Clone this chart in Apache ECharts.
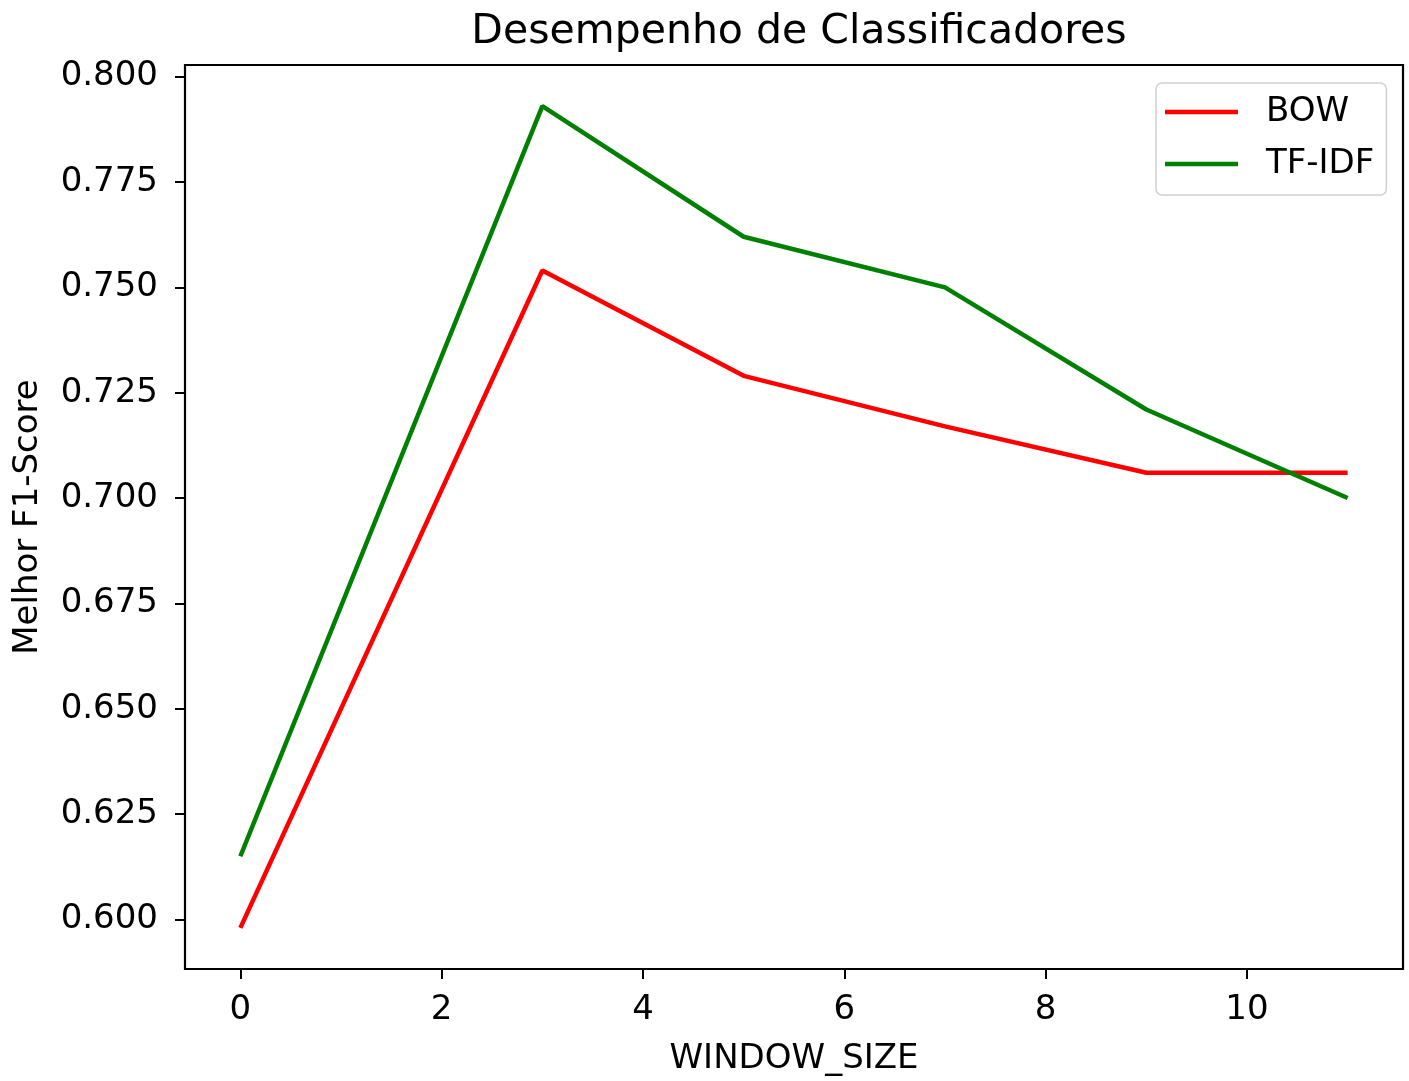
<!DOCTYPE html>
<html>
<head>
<meta charset="utf-8">
<script src="https://cdn.jsdelivr.net/npm/echarts@6/dist/echarts.min.js"></script>
<style>
html,body{margin:0;padding:0;background:#fff;}
#chart{width:1409px;height:1081px;}
</style>
</head>
<body>
<div id="chart"></div>
<script>
const windowSize = [0, 3, 5, 7, 9, 11];
const bow = [0.598, 0.754, 0.729, 0.717, 0.706, 0.706];
const tfidf = [0.615, 0.793, 0.762, 0.750, 0.721, 0.700];
const xTicks = [0, 2, 4, 6, 8, 10];
const yTicks = [0.600, 0.625, 0.650, 0.675, 0.700, 0.725, 0.750, 0.775, 0.800];
const seriesNames = ['BOW', 'TF-IDF'];
const titleText = 'Desempenho de Classificadores';
const xName = 'WINDOW_SIZE';
const yName = 'Melhor F1-Score';

const font = 'DejaVu Sans';
const chart = echarts.init(document.getElementById('chart'));
const pairs = arr => windowSize.map((x, i) => [x, arr[i]]);

chart.setOption({
  animation: false,
  backgroundColor: '#fff',
  title: {
    text: titleText,
    left: 794, top: 7, textAlign: 'center',
    textStyle: {fontFamily: font, fontSize: 41, fontWeight: 'normal', color: '#000'}
  },
  grid: {left: 185, right: 6, top: 65, bottom: 108.5, show: true, borderColor: '#000', borderWidth: 2.2, containLabel: false},
  legend: {
    orient: 'vertical', left: 1156, top: 83, align: 'left',
    padding: [12, 12, 14, 9],
    backgroundColor: 'rgba(255,255,255,0.8)',
    borderColor: '#d0d0d0', borderWidth: 1.5, borderRadius: 6,
    icon: 'rect', itemWidth: 73, itemHeight: 4.5, itemGap: 18,
    textStyle: {fontFamily: font, fontSize: 34, color: '#000', padding: [0, 0, 0, 23]},
    data: seriesNames
  },
  xAxis: {
    type: 'value', min: -0.55, max: 11.55,
    name: xName, nameLocation: 'middle', nameGap: 73,
    nameTextStyle: {fontFamily: font, fontSize: 34, color: '#000'},
    axisLine: {show: false, onZero: false},
    splitLine: {show: false},
    axisTick: {show: true, length: 10, lineStyle: {color: '#000', width: 2}, customValues: xTicks},
    axisLabel: {fontFamily: font, fontSize: 34, color: '#000', margin: 24, customValues: xTicks,
      formatter: v => String(v)}
  },
  yAxis: {
    type: 'value', min: 0.58825, max: 0.80275,
    name: yName, nameLocation: 'middle', nameGap: 140, nameRotate: 90,
    nameTextStyle: {fontFamily: font, fontSize: 34, color: '#000'},
    axisLine: {show: false, onZero: false},
    splitLine: {show: false},
    axisTick: {show: true, length: 10, lineStyle: {color: '#000', width: 2}, customValues: yTicks},
    axisLabel: {fontFamily: font, fontSize: 34, color: '#000', margin: 27, customValues: yTicks,
      formatter: v => Number(v).toFixed(3)}
  },
  series: [
    {name: seriesNames[0], type: 'line', data: pairs(bow), symbol: 'none', color: '#ff0000',
     lineStyle: {color: '#ff0000', width: 4.5}},
    {name: seriesNames[1], type: 'line', data: pairs(tfidf), symbol: 'none', color: '#008000',
     lineStyle: {color: '#008000', width: 4.5}}
  ]
});
</script>
</body>
</html>
